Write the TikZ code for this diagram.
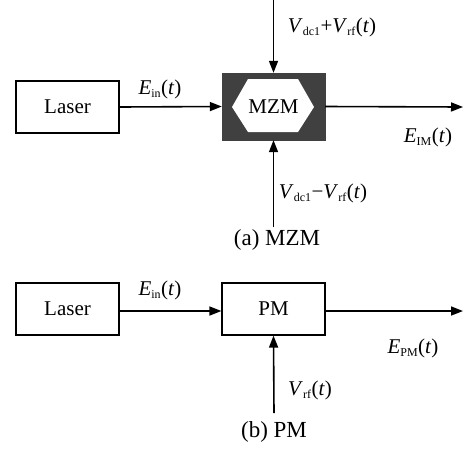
\documentclass[tikz,border=0pt]{standalone}
\usepackage{fontspec}
\setmainfont{Liberation Serif}
\usetikzlibrary{arrows.meta}
\newcommand{\lo}[1]{\textsubscript{\fontsize{12}{13}\selectfont #1}}
\tikzset{
  block/.style={draw, line width=1.2pt, minimum width=103pt, minimum height=52pt, inner sep=0pt},
  sigline/.style={line width=1.6pt, -{Triangle[length=12pt,width=9pt]}},
  lbl/.style={inner sep=0pt},
  subcap/.style={inner sep=0pt, font=\fontsize{23}{26}\selectfont}
}
\begin{document}
\begin{tikzpicture}[x=1pt, y=-1pt, font=\fontsize{21}{24}\selectfont]
\useasboundingbox (0,0) rectangle (465,448);
% (a) MZM
\node[block] (laserA) at (67.5,107) {Laser};
\filldraw[fill=black!75, draw=black!75] (222,73) rectangle (325,140);
\fill[white] (232,107) -- (248,79) -- (298,79) -- (314,107) -- (298,132) -- (248,132) -- cycle;
\node[minimum width=103pt, minimum height=67pt, inner sep=0pt] (mzm) at (273.5,106.5) {MZM};
\coordinate (topin) at (273.5,0);
\coordinate (botin) at (273.5,227);
\coordinate (outA) at (463,107);
\draw[sigline] (laserA.east) -- (mzm.west);
\draw[sigline] (topin) -- (mzm.north);
\draw[sigline] (botin) -- (mzm.south);
\draw[sigline] (mzm.east) -- (outA);
\node[lbl] (einA) at (160,89) {\textit{E}\lo{in}(\textit{t})};
\node[lbl] (vplus) at (332,27) {\textit{V}\lo{dc1}+\textit{V}\lo{rf}(\textit{t})};
\node[lbl] (vminus) at (323,193) {\textit{V}\lo{dc1}−\textit{V}\lo{rf}(\textit{t})};
\node[lbl] (eim) at (428,137) {\textit{E}\lo{IM}(\textit{t})};
\node[subcap] (capA) at (277,240) {(a) MZM};
% (b) PM
\node[block] (laserB) at (67.5,309) {Laser};
\node[block] (pm) at (273.5,309) {PM};
\coordinate (rfin) at (274,413);
\coordinate (outB) at (463,311);
\draw[sigline] (laserB.east |- 0,311) -- (pm.west |- 0,311);
\draw[sigline] (rfin) -- (pm.south);
\draw[sigline] (pm.east |- 0,311) -- (outB);
\node[lbl] (einB) at (160,290) {\textit{E}\lo{in}(\textit{t})};
\node[lbl] (vrf) at (310,390) {\textit{V}\lo{rf}(\textit{t})};
\node[lbl] (epm) at (413,348) {\textit{E}\lo{PM}(\textit{t})};
\node[subcap] (capB) at (274,432) {(b) PM};
\end{tikzpicture}
\end{document}
